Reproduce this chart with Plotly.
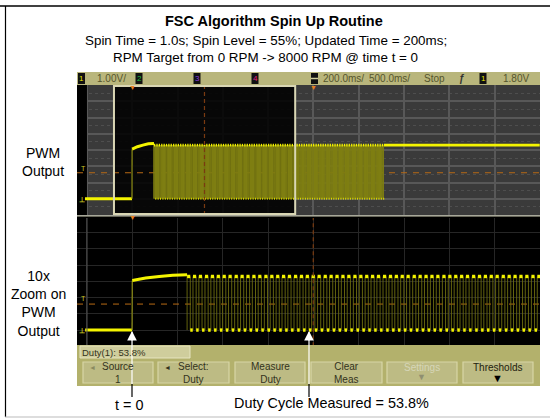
import plotly.graph_objects as go

# ---- data (time in ms, level in volts) ----
lead_start_main = -519
lead_start_zoom = -207
ramp_t = [0, 1, 20, 60, 120, 180, 243]
ramp_v = [0, 3.05, 3.1, 3.2, 3.3, 3.38, 3.4]
pulse_starts = [243, 269, 295, 322, 348, 374, 400, 426, 453, 479, 505, 531, 557, 584, 610, 636, 662, 688, 715, 741,
                767, 793, 819, 846, 872, 898, 924, 950, 977, 1003, 1029, 1055, 1081, 1108, 1134, 1160, 1186, 1212,
                1239, 1265, 1291, 1317, 1343, 1370, 1396, 1422, 1448, 1474, 1501, 1527, 1553, 1579, 1605, 1632,
                1658, 1684, 1710, 1736, 1763, 1789, 1815, 1841, 1867, 1894, 1920, 1946, 1972, 1998, 2025, 2051,
                2077, 2103, 2129, 2156, 2182, 2208, 2234, 2260, 2287, 2313, 2339, 2365, 2391, 2418, 2444, 2470,
                2496, 2522, 2549, 2575, 2601, 2627, 2653, 2680, 2706, 2732, 2758]
pulse_high_ms = 14
pulse_low_ms = 11
level_low = 0.0
level_high = 3.3
pwm_end = 2781
run_end = 4500
trigger_v = 1.6
cursor_t = 800
window_t = [-199, 1801]
main_range = [-607, 4503]
zoom_range = [-243, 1801]
volt_range = [-1, 7]

title = "<b>FSC Algorithm Spin Up Routine</b>"
subtitle = ["Spin Time = 1.0s; Spin Level = 55%; Updated Time = 200ms;",
            "RPM Target from 0 RPM -> 8000 RPM @ time t = 0"]
side_labels = [("PWM<br>Output", 43, 162), ("10x<br>Zoom on<br>PWM<br>Output", 38, 303)]
header_items = [("1.00V/", 111, "#55552c"), ("200.0ms/", 343, "#55552c"),
                ("500.0ms/", 389, "#55552c"), ("Stop", 434, "#55552c"), ("1.80V", 516, "#55552c")]
channel_tags = [("1", 81.5, "#e8e800"), ("2", 139, "#20c040"), ("3", 197, "#9040e0"), ("4", 255, "#e02080"),
                ("1", 483, "#e8e800")]
softkeys = [("Source<br>1", 83, 153, "#33331c"), ("Select:<br>Duty", 158, 229, "#33331c"),
            ("Measure<br>Duty", 235, 305, "#33331c"), ("Clear<br>Meas", 311, 382, "#33331c"),
            ("Settings", 387, 457, "#d6d6b8"), ("Thresholds", 463, 533, "#22220f")]

W, H = 550, 418
def fx(px): return px / W
def fy(py): return 1 - py / H

# build the traces from the arrays
edges_x, edges_y, tops_x, tops_y, lows_x, lows_y = [], [], [], [], [], []
for s in pulse_starts:
    edges_x += [s, s, None, s + pulse_high_ms, s + pulse_high_ms, None]
    edges_y += [level_low, level_high, None, level_low, level_high, None]
    tops_x += [s, s + pulse_high_ms, None]
    tops_y += [level_high, level_high, None]
    lows_x += [s + pulse_high_ms, s + pulse_high_ms + pulse_low_ms, None]
    lows_y += [level_low, level_low, None]

YEL = "#f4f400"
fig = go.Figure()
panels = [("", lead_start_main, 2.6, 1.6, "#7e7e12", main_range),
          ("2", lead_start_zoom, 3.4, 0.9, "#6e6e10", zoom_range)]
for suffix, lead, lw_top, lw_edge, edge_col, rng in panels:
    xa, ya = "x" + suffix, "y" + suffix
    common = dict(mode="lines", xaxis=xa, yaxis=ya, hoverinfo="skip")
    fig.add_trace(go.Scatter(x=rng, y=[trigger_v, trigger_v], line=dict(color="#b86a14", width=1, dash="6px,6px"), **common))
    fig.add_trace(go.Scatter(x=edges_x, y=edges_y, line=dict(color=edge_col, width=lw_edge), **common))
    fig.add_trace(go.Scatter(x=tops_x, y=tops_y, line=dict(color=YEL, width=lw_top), **common))
    fig.add_trace(go.Scatter(x=lows_x, y=lows_y, line=dict(color=YEL if suffix else "#dcdc00", width=lw_top if suffix else 2), **common))
    fig.add_trace(go.Scatter(x=[lead, 0], y=[level_low, level_low], line=dict(color=YEL, width=3), **common))
    fig.add_trace(go.Scatter(x=ramp_t[:2], y=ramp_v[:2], line=dict(color="#8c8c14", width=1.2), **common))
    fig.add_trace(go.Scatter(x=ramp_t[1:], y=ramp_v[1:], line=dict(color=YEL, width=3), **common))
    if not suffix:
        fig.add_trace(go.Scatter(x=[pwm_end, run_end], y=[level_high, level_high], line=dict(color=YEL, width=2.6), **common))
    fig.add_trace(go.Scatter(x=[cursor_t, cursor_t], y=volt_range, line=dict(color="#7a3a10", width=1.2, dash="4px,3px"), **common))

shapes, ann = [], []
def prect(x0, y0, x1, y1, fill, line=None, lw=1, layer="below"):
    shapes.append(dict(type="rect", xref="paper", yref="paper", x0=fx(x0), x1=fx(x1), y0=fy(y0), y1=fy(y1),
                       fillcolor=fill, line=dict(color=line or fill, width=lw if line else 0), layer=layer))
def pline(x0, y0, x1, y1, color, lw=1, layer="above"):
    shapes.append(dict(type="line", xref="paper", yref="paper", x0=fx(x0), x1=fx(x1), y0=fy(y0), y1=fy(y1),
                       line=dict(color=color, width=lw), layer=layer))
def ptext(text, x, y, size=10, color="#000", anchor="center"):
    ann.append(dict(text=text, xref="paper", yref="paper", x=fx(x), y=fy(y), showarrow=False, xanchor=anchor,
                    yanchor="middle", align="center", borderpad=0,
                    font=dict(size=size, color=color, family="Liberation Sans")))

# outer frame
pline(0, 6, 550, 6, "#000", 1.5)
pline(5.5, 6, 5.5, 417, "#000", 1.2)
pline(5, 417, 550, 417, "#bbb", 1)
# scope body
prect(77, 72, 540, 85, "#b9b67c")
prect(77, 216, 540, 345, "#000")
prect(77, 345, 540, 386, "#b3b16c")
# black strip left of the main graticule
shapes.append(dict(type="rect", xref="x", yref="y", x0=main_range[0], x1=-497, y0=volt_range[0], y1=volt_range[1],
                   fillcolor="#000", line=dict(width=0), layer="between"))
# window in the main view
shapes.append(dict(type="rect", xref="x", yref="y", x0=window_t[0], x1=window_t[1], y0=volt_range[0], y1=volt_range[1],
                   fillcolor="rgba(0,0,0,0.88)", line=dict(width=0), layer="between"))
shapes.append(dict(type="rect", xref="x", yref="paper", x0=window_t[0], x1=window_t[1], y0=fy(214), y1=fy(86),
                   fillcolor="rgba(0,0,0,0)", line=dict(color="#d9d6b4", width=2), layer="above"))
pline(77, 216, 540, 216, "#8a8a78", 1.5)
pline(87, 218, 87, 345, "#555", 1)

# header
for text, x, c in header_items:
    ptext(text, x, 78.5, 10, c)
for text, x, c in channel_tags:
    prect(x - 3.5, 73, x + 3.5, 84, "#111")
    ptext(text, x, 78.5, 8, c)
prect(311, 73, 318, 84, "#111")
pline(311, 78.5, 318, 78.5, "#cfcd9c", 1.5)
ptext("<b>ƒ</b>", 462, 78.5, 10, "#333")
# softkeys
prect(80, 346, 190, 358, "#cfcd9c", "#e6e4c0", 1)
ptext("Duty(1): 53.8%", 81, 352, 9.5, "#33331c", "left")
for text, x0, x1, c in softkeys:
    prect(x0, 362, x1, 383, "#bdbb84", "#d8d6a6", 1.2)
    ptext(text, (x0 + x1) / 2, 372.5 if "<br>" in text else 367, 10, c)
ptext("◄", 92, 367, 7, "#8a8a60")
ptext("◄", 167, 367, 7, "#33331c")
ptext("▼", 422, 377, 9, "#8f8f70")
ptext("▼", 498, 378, 11, "#000")

# trigger triangles / ground marks
for x, y in [(132, 87), (132, 218), (313, 87)]:
    ptext("▼", x, y, 7, "#e88020")
for y in [199, 330]:
    ptext("<b>⊥</b>", 82, y, 7, "#c8c820")
for y in [168, 298]:
    ptext("T", 83, y, 7, "#c8c820")

# arrows
for x, y1 in [(132, 332), (309, 332)]:
    pline(x, y1, x, 384, "#fff", 1.2)
    pline(x, 384, x, 397, "#000", 1.2)
    ann.append(dict(x=fx(x), y=fy(331), ax=0, ay=11, xref="paper", yref="paper", axref="pixel",
                    ayref="pixel", text="", showarrow=True, arrowhead=2, arrowsize=1.6, arrowwidth=1.2,
                    arrowcolor="#fff"))

# titles
ptext(title, 274, 21, 14.5)
ptext(subtitle[0], 265.5, 40, 13.4)
ptext(subtitle[1], 265.5, 58, 13.4)
for text, x, y in side_labels:
    ptext(text, x, y, 14)
ptext("t = 0", 128.5, 405, 14.4)
ptext("Duty Cycle Measured = 53.8%", 331, 403, 14.4)

GRID = "#585858"
def axis(domain, **kw):
    return dict(domain=domain, showticklabels=False, ticks="", zeroline=False, showline=False, fixedrange=True, **kw)

fig.update_layout(
    width=W, height=H, autosize=False, margin=dict(l=0, r=0, t=0, b=0),
    paper_bgcolor="#fff", plot_bgcolor="#3a3a3a", showlegend=False, shapes=shapes, annotations=ann,
    xaxis=axis([fx(77), fx(540)], anchor="y", range=main_range, tick0=-497, dtick=500, showgrid=True,
               gridcolor=GRID, gridwidth=1.5),
    yaxis=axis([fy(215), fy(85)], anchor="x", range=volt_range, tick0=0, dtick=1, showgrid=True,
               gridcolor=GRID, gridwidth=1.5,
               minor=dict(dtick=0.5, showgrid=True, gridcolor="#4e4e4e", griddash="dot", gridwidth=0.8)),
    xaxis2=axis([fx(77), fx(540)], anchor="y2", range=zoom_range, tick0=-199, dtick=200, showgrid=True,
                gridcolor="#262626", gridwidth=1),
    yaxis2=axis([fy(345), fy(218)], anchor="x2", range=[-0.92, 6.9], tick0=0, dtick=1, showgrid=True,
                gridcolor="#262626", gridwidth=1),
)
fig.write_html("out.html", config=dict(displayModeBar=False),
               post_script="document.body.style.margin='0';document.documentElement.style.overflow='hidden';")
